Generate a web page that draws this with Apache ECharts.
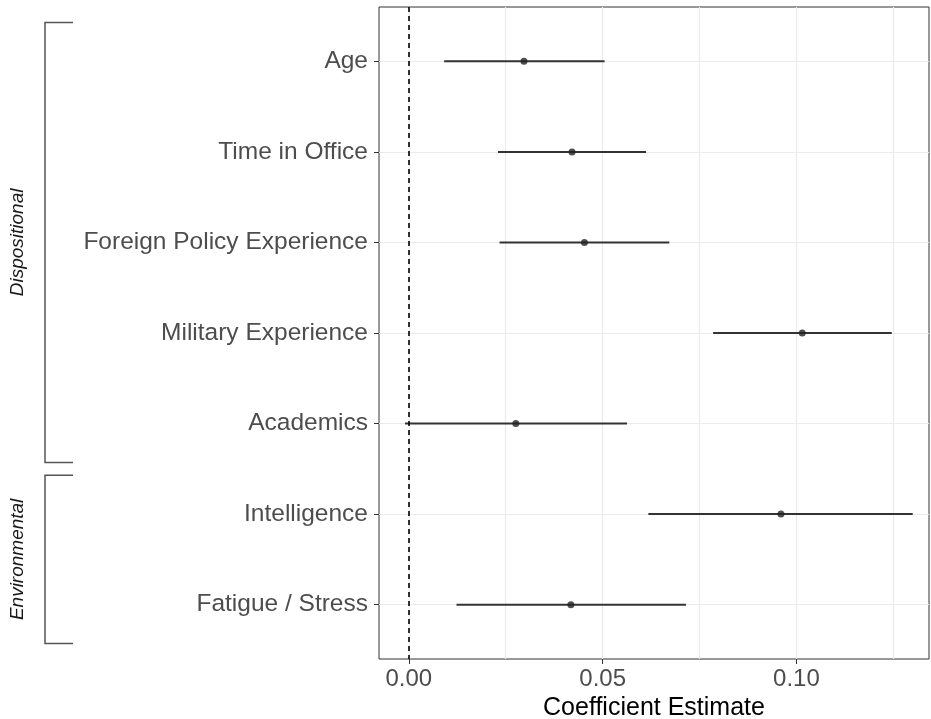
<!DOCTYPE html>
<html>
<head>
<meta charset="utf-8">
<script src="https://cdn.jsdelivr.net/npm/echarts@6/dist/echarts.min.js"></script>
<style>
html,body{margin:0;padding:0;background:#fff;}
#chart{width:931px;height:719px;}
</style>
</head>
<body>
<div id="chart"></div>
<script>
// ---- data ----
var categories = ['Age', 'Time in Office', 'Foreign Policy Experience', 'Military Experience', 'Academics', 'Intelligence', 'Fatigue / Stress'];
var estimates = [0.0297, 0.0421, 0.0453, 0.1015, 0.0276, 0.0960, 0.0418];
var lowerCI   = [0.0091, 0.0230, 0.0234, 0.0785, -0.0010, 0.0618, 0.0123];
var upperCI   = [0.0505, 0.0612, 0.0672, 0.1246, 0.0563, 0.1300, 0.0715];
var xTickValues = [0, 0.05, 0.10];
var xMinorValues = [0.025, 0.075, 0.125];
var groupNames = ['Dispositional', 'Environmental'];
var groupFrom = [1, 6];
var groupTo = [5, 7];
var xTitle = 'Coefficient Estimate';

var yPositions = categories.map(function (c, i) { return i + 1; });
var ciData = categories.map(function (c, i) { return [lowerCI[i], upperCI[i], i + 1]; });
var pointData = categories.map(function (c, i) { return [estimates[i], i + 1]; });

var FONT = '"Liberation Sans", Arial, Helvetica, sans-serif';
var chart = echarts.init(document.getElementById('chart'), null, {renderer: 'canvas'});

var option = {
  backgroundColor: '#ffffff',
  animation: false,
  grid: {
    left: 379, right: 2, top: 7, bottom: 60,
    containLabel: false, outerBoundsMode: 'none',
    show: true, borderColor: '#333333', borderWidth: 1, backgroundColor: 'transparent'
  },
  xAxis: [{
    type: 'value',
    min: -0.0077, max: 0.1342,
    name: xTitle, nameLocation: 'middle', nameGap: 33,
    nameTextStyle: {fontFamily: FONT, fontSize: 25, color: '#000'},
    axisLine: {show: false, onZero: false},
    axisTick: {show: true, length: 5, lineStyle: {color: '#333', width: 1}, customValues: xTickValues},
    axisLabel: {show: true, margin: 8, fontFamily: FONT, fontSize: 24, color: '#4d4d4d', customValues: xTickValues,
      formatter: function (v) { return v.toFixed(2); }},
    splitLine: {show: true, lineStyle: {color: '#ebebeb', width: 1.2}}
  }, {
    type: 'value',
    min: -0.0077, max: 0.1342,
    position: 'bottom',
    axisLine: {show: false, onZero: false},
    axisTick: {show: false, customValues: xMinorValues},
    axisLabel: {show: false, customValues: xMinorValues},
    splitLine: {show: true, lineStyle: {color: '#ebebeb', width: 1.2}}
  }],
  yAxis: {
    type: 'value',
    min: 0.4, max: 7.6, inverse: true,
    axisLine: {show: false, onZero: false},
    axisTick: {show: true, length: 5, lineStyle: {color: '#333', width: 1}, customValues: yPositions},
    axisLabel: {show: true, margin: 11, fontFamily: FONT, fontSize: 24.5, color: '#4d4d4d', customValues: yPositions,
      formatter: function (v) { return categories[Math.round(v) - 1] || ''; }},
    splitLine: {show: true, lineStyle: {color: '#ebebeb', width: 1.2}}
  },
  series: [{
    type: 'custom',
    xAxisIndex: 0,
    data: ciData,
    encode: {x: [0, 1], y: 2},
    z: 3,
    renderItem: function (params, api) {
      var y = api.value(2);
      var p1 = api.coord([api.value(0), y]);
      var p2 = api.coord([api.value(1), y]);
      return {type: 'line', shape: {x1: p1[0], y1: p1[1], x2: p2[0], y2: p2[1]},
        style: {stroke: '#333333', lineWidth: 2}};
    },
    markLine: {
      silent: true, symbol: ['none', 'none'], label: {show: false},
      lineStyle: {color: '#000', type: [5, 4], width: 1.6},
      data: [{xAxis: 0}]
    }
  }, {
    type: 'scatter',
    xAxisIndex: 0,
    data: pointData,
    symbol: 'circle', symbolSize: 7,
    itemStyle: {color: '#222222'},
    z: 4
  }]
};
chart.setOption(option);

// group brackets in left margin, positioned via the y axis scale
var graphics = [];
var pad = 0.43;
for (var g = 0; g < groupNames.length; g++) {
  var yTop = chart.convertToPixel({yAxisIndex: 0}, groupFrom[g] - pad);
  var yBot = chart.convertToPixel({yAxisIndex: 0}, groupTo[g] + pad);
  graphics.push({
    type: 'polyline', silent: true,
    shape: {points: [[73, yTop], [45, yTop], [45, yBot], [73, yBot]]},
    style: {stroke: '#555555', lineWidth: 1.5, fill: null}
  });
  graphics.push({
    type: 'text', silent: true,
    x: 17.5, y: (yTop + yBot) / 2, rotation: Math.PI / 2,
    style: {text: groupNames[g], fontFamily: FONT, fontStyle: 'italic', fontSize: 19,
      fill: '#1a1a1a', align: 'center', verticalAlign: 'middle'}
  });
}
chart.setOption({graphic: graphics});
</script>
</body>
</html>
